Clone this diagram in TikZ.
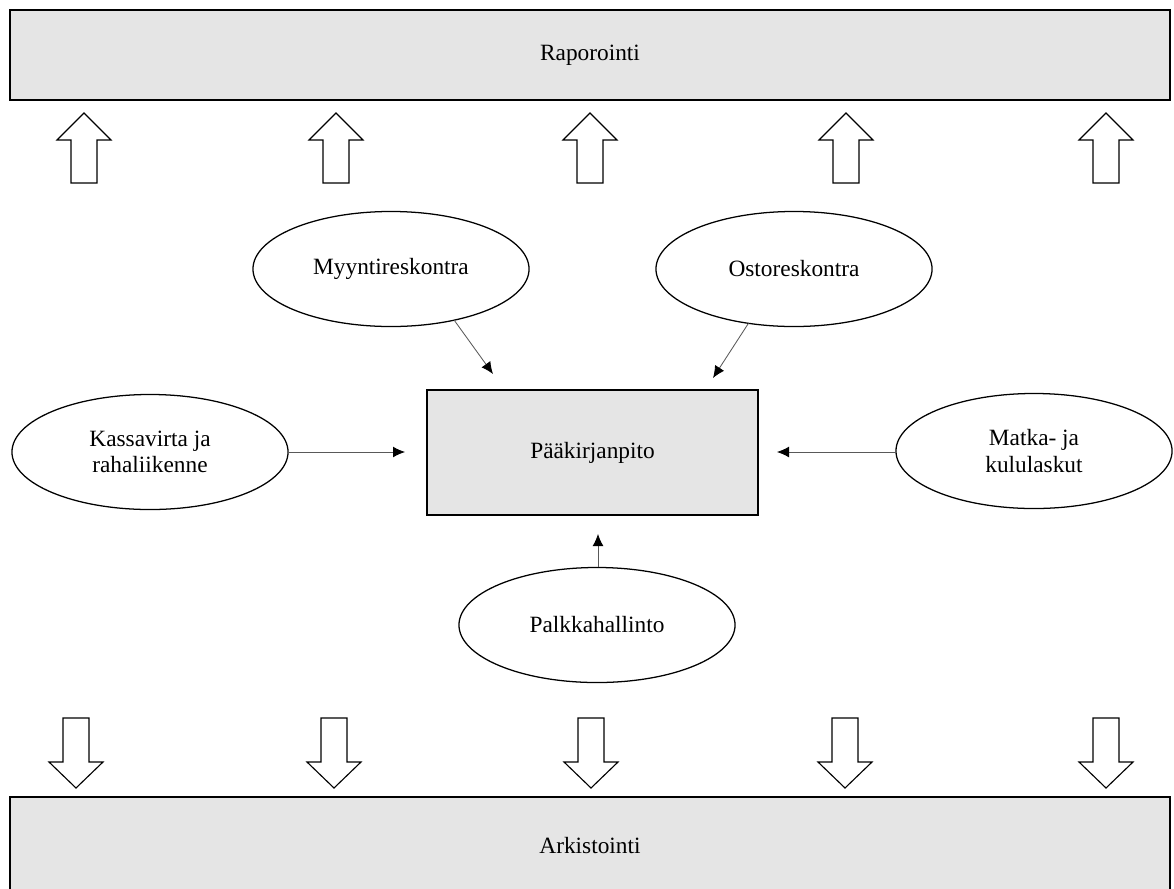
\documentclass[tikz,border=0pt]{standalone}
\usepackage{fontspec}
\setmainfont{Liberation Serif}
\usetikzlibrary{arrows.meta,positioning,shapes.geometric}
\tikzset{
boxfill/.style={fill=black!10},
wide box/.style={draw, boxfill, line width=1.3pt, minimum width=28.975cm},
module/.style={ellipse, draw, line width=0.9pt, minimum width=6.9cm, minimum height=2.875cm, align=center},
block arrow/.style={draw, fill=white, line width=0.8pt, line join=miter},
flow/.style={-{Latex[length=0.3cm,width=0.27cm,color=black]}, black!65, line width=0.6pt},
}
\tikzstyle{every node}=[font=\fontsize{16.6}{18.5}\selectfont, inner sep=0pt, outer sep=0pt]

\begin{document}
\begin{tikzpicture}[x=0.025cm, y=-0.025cm]
        \clip (0,0) rectangle (1174,888);

        % reporting and archive layers
        \node[wide box, minimum height=2.25cm] (raport) at (590,55) {Raporointi};
        \node[wide box, minimum height=2.4cm] (arkist) at (590,845) {Arkistointi};

        % general ledger
        \node[draw, boxfill, line width=1.1pt, minimum width=8.275cm, minimum height=3.125cm]
            (paakirja) at (592.5,452.5) {Pääkirjanpito};

        % sub ledgers
        \node[module] (myynti) at (391,269) {Myyntireskontra};
        \node[module] (osto) at (794,269) {Ostoreskontra};
        \node[module] (kassa) at (150,452) {Kassavirta ja\\rahaliikenne};
        \node[module] (matka) at (1034,451) {Matka- ja\\kululaskut};
        \node[module] (palkka) at (597,625) {Palkkahallinto};

        \coordinate (myyntiIn) at (493,374);
        \coordinate (ostoIn) at (713,378);
        \coordinate (kassaIn) at (405,452);
        \coordinate (matkaIn) at (777,452);
        \coordinate (palkkaIn) at (598,534);

        \draw[flow] (myynti.-39) -- (myyntiIn);
        \draw[flow] (osto.-130) -- (ostoIn);
        \draw[flow] (kassa.east) -- (kassaIn);
        \draw[flow] (matka.west |- matkaIn) -- (matkaIn);
        \draw[flow] (palkka.north -| palkkaIn) -- (palkkaIn);

        % hollow arrows up and down
        \foreach \ax in {84,336,590,846,1106}
            \draw[block arrow] (\ax,113) -- ++(27,27) -- ++(-14,0) -- ++(0,43)
                -- ++(-26,0) -- ++(0,-43) -- ++(-14,0) -- cycle;
        \foreach \ax in {76,334,591,845,1106}
            \draw[block arrow] (\ax,788) -- ++(27,-26) -- ++(-14,0) -- ++(0,-44)
                -- ++(-26,0) -- ++(0,44) -- ++(-14,0) -- cycle;
\end{tikzpicture}
\end{document}
